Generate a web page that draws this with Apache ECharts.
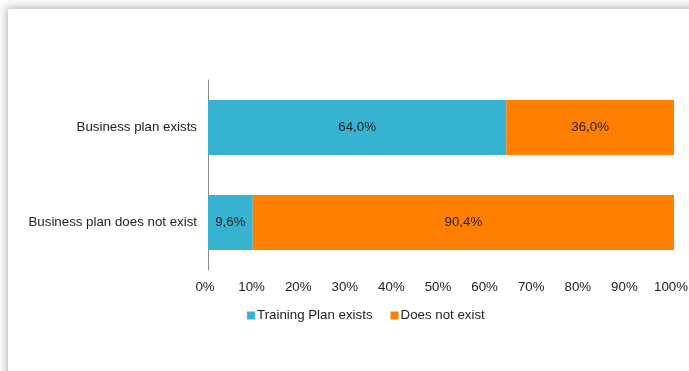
<!DOCTYPE html>
<html><head><meta charset="utf-8">
<script src="https://cdn.jsdelivr.net/npm/echarts@6/dist/echarts.min.js"></script>
<style>
html,body{margin:0;padding:0;width:689px;height:371px;overflow:hidden;background:#fff;}
#frame{position:absolute;left:8px;top:9px;width:720px;height:400px;background:#fff;box-shadow:0 0 9px 2px rgba(0,0,0,0.28);}
#c{position:absolute;left:0;top:0;width:689px;height:371px;}
</style></head>
<body>
<div id="frame"></div>
<div id="c"></div>
<script>
const categories = ['Business plan exists', 'Business plan does not exist'];
const seriesNames = ['Training Plan exists', 'Does not exist'];
const trainingExists = [64.0, 9.6];
const doesNotExist = [36.0, 90.4];
const colors = ['#35B3D1', '#FF8000'];

const chart = echarts.init(document.getElementById('c'), null, {renderer:'canvas'});
const fmt = p => p.value.toFixed(1).replace('.', ',') + '%';
const font = 'Liberation Sans, Arial, sans-serif';
const fs = 13.3;
chart.setOption({
  backgroundColor: 'transparent',
  animation: false,
  textStyle: {fontFamily: font},
  grid: {left: 208, right: 15, top: 80, bottom: 101, containLabel: false, outerBoundsMode: 'none'},
  legend: {
    left: 242, top: 304, itemWidth: 8, itemHeight: 8, itemGap: 18,
    icon: 'rect',
    textStyle: {fontSize: fs, color: '#222', fontFamily: font, padding: [0,0,0,-3]},
    data: seriesNames
  },
  xAxis: {
    type: 'value', min: 0, max: 100, interval: 10,
    axisLine: {show: false}, axisTick: {show: false}, splitLine: {show: false},
    axisLabel: {formatter: '{value}%', fontSize: fs, color: '#222', margin: 11, fontFamily: font, padding: [0, 6, 0, 0]}
  },
  yAxis: {
    type: 'category', data: categories, inverse: true,
    axisLine: {show: true, lineStyle: {color: '#888', width: 1}},
    axisTick: {show: false},
    axisLabel: {fontSize: fs, color: '#222', margin: 11, fontFamily: font}
  },
  series: [
    {name: seriesNames[0], type: 'bar', stack: 't', data: trainingExists, barWidth: 55,
     itemStyle: {color: colors[0]},
     label: {show: true, position: 'inside', formatter: fmt, color: '#222', fontSize: fs, fontFamily: font}},
    {name: seriesNames[1], type: 'bar', stack: 't', data: doesNotExist, barWidth: 55,
     itemStyle: {color: colors[1]},
     label: {show: true, position: 'inside', formatter: fmt, color: '#222', fontSize: fs, fontFamily: font}}
  ]
});
</script>
</body></html>
